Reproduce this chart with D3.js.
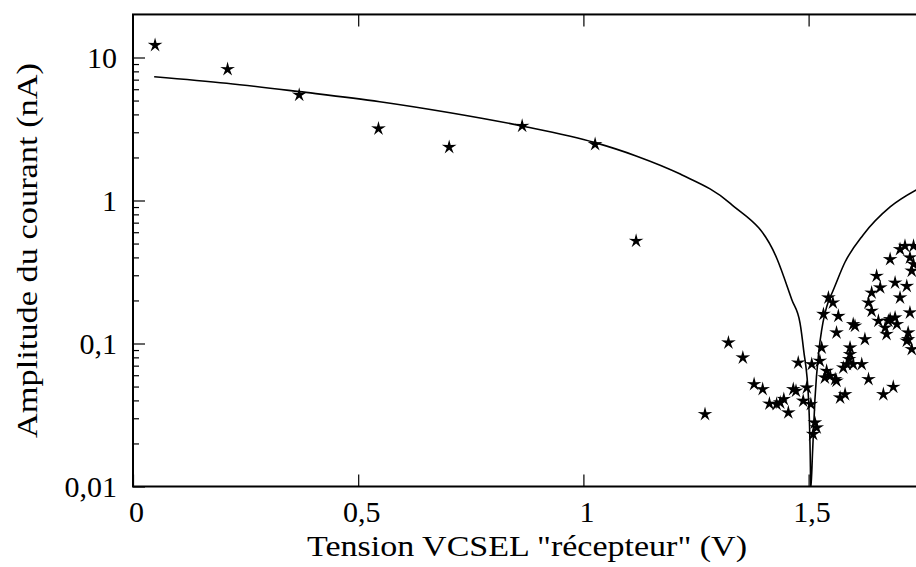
<!DOCTYPE html>
<html><head><meta charset="utf-8">
<script src="https://cdn.jsdelivr.net/npm/d3@7/dist/d3.min.js"></script>
<style>
html,body{margin:0;padding:0;background:#fff;}
svg text{font-family:"Liberation Serif","Times New Roman",serif;fill:#000;}
</style></head>
<body>
<svg id="chart" width="916" height="567"></svg>
<script>
// ---- data ----
const xTickValues = [0, 0.5, 1, 1.5];
const xTickLabels = ["0", "0,5", "1", "1,5"];
const yTickValues = [0.01, 0.1, 1, 10];
const yTickLabels = ["0,01", "0,1", "1", "10"];
const xTitle = "Tension VCSEL \"récepteur\" (V)";
const yTitle = "Amplitude du courant (nA)";

// model curve (solid line)
const modelV = [0.047, 0.208, 0.369, 0.548, 0.704, 0.864, 1.026, 1.117, 1.215, 1.326, 1.430, 1.463, 1.481, 1.489, 1.500, 1.504, 1.5047, 1.509, 1.514, 1.523, 1.529, 1.545, 1.552, 1.581, 1.621, 1.681, 1.739];
const modelI = [7.34, 6.60, 5.77, 4.91, 4.11, 3.32, 2.54, 2.05, 1.53, 0.955, 0.390, 0.2015, 0.139, 0.090, 0.0403, 0.0137, 0.0095, 0.018, 0.0403, 0.090, 0.124, 0.2015, 0.2255, 0.3715, 0.574, 0.901, 1.184];

// measured points (stars)
const measV = [0.049, 0.210, 0.369, 0.545, 0.702, 0.864, 1.026, 1.117, 1.270, 1.322, 1.354, 1.379, 1.398, 1.413, 1.429, 1.437, 1.445, 1.455, 1.466, 1.472, 1.477, 1.488, 1.496, 1.505, 1.507, 1.525, 1.529, 1.514, 1.518, 1.510, 1.533, 1.544, 1.554, 1.566, 1.562, 1.599, 1.603, 1.625, 1.540, 1.548, 1.562, 1.577, 1.592, 1.585, 1.599, 1.618, 1.633, 1.570, 1.581, 1.666, 1.688, 1.640, 1.655, 1.673, 1.677, 1.692, 1.721, 1.729, 1.725, 1.633, 1.536, 1.703, 1.714, 1.733, 1.681, 1.725, 1.733, 1.729, 1.651, 1.640, 1.659, 1.692, 1.718, 1.703, 1.681, 1.696, 1.670, 1.718, 1.592, 1.721, 1.590, 1.559];
const measI = [12.4, 8.40, 5.56, 3.23, 2.40, 3.37, 2.51, 0.529, 0.0325, 0.103, 0.0809, 0.0527, 0.0486, 0.0385, 0.0382, 0.0392, 0.0414, 0.0334, 0.0486, 0.0473, 0.0746, 0.0403, 0.0499, 0.0382, 0.0727, 0.0767, 0.095, 0.0284, 0.0262, 0.0236, 0.163, 0.2125, 0.196, 0.158, 0.121, 0.1385, 0.1347, 0.1087, 0.0653, 0.0602, 0.0556, 0.0688, 0.0854, 0.0727, 0.0727, 0.0727, 0.0571, 0.0425, 0.0448, 0.0448, 0.0504, 0.1715, 0.146, 0.118, 0.146, 0.154, 0.1087, 0.0926, 0.167, 0.196, 0.0586, 0.463, 0.488, 0.488, 0.394, 0.405, 0.364, 0.327, 0.301, 0.230, 0.250, 0.270, 0.256, 0.2125, 0.150, 0.1385, 0.131, 0.1058, 0.095, 0.121, 0.0788, 0.0571];

// ---- layout ----
const svg = d3.select("#chart");
const x0 = 133, pxPerUnit = 450.4;
const x = d3.scaleLinear().domain([0, 1.75]).range([x0, x0 + 1.75 * pxPerUnit]);
const y = d3.scaleLog().domain([0.01, 20]).range([486.5, 486.5 - 143 * Math.log10(2000)]);
const [xl, xr] = x.range();
const [yb, yt] = y.range();
const FS = 30;

svg.append("defs").append("clipPath").attr("id", "clip")
  .append("rect").attr("x", xl).attr("y", yt).attr("width", xr - xl).attr("height", yb - yt);

// minor y ticks
const minorY = [];
[0.01, 0.1, 1].forEach(d => { for (let k = 2; k <= 9; k++) minorY.push(+(d * k).toPrecision(3)); });
svg.append("g").attr("transform", `translate(${xl},0)`)
  .call(d3.axisLeft(y).tickValues(minorY).tickSizeInner(-6).tickSizeOuter(0).tickFormat(""))
  .call(g => g.select(".domain").remove())
  .selectAll("line").attr("stroke", "#000").attr("stroke-width", 1.2);

// major y ticks + labels
svg.append("g").attr("transform", `translate(${xl},0)`)
  .call(d3.axisLeft(y).tickValues(yTickValues).tickSizeInner(-12).tickSizeOuter(0).tickPadding(16)
    .tickFormat((d, i) => yTickLabels[i]))
  .call(g => g.select(".domain").remove())
  .call(g => g.selectAll("line").attr("stroke", "#000").attr("stroke-width", 1.2))
  .call(g => g.selectAll("text").attr("font-size", FS).attr("font-family", "Liberation Serif, serif"));

// bottom x ticks + labels
svg.append("g").attr("transform", `translate(0,${yb})`)
  .call(d3.axisBottom(x).tickValues(xTickValues).tickSizeInner(-12).tickSizeOuter(0).tickPadding(14)
    .tickFormat((d, i) => xTickLabels[i]))
  .call(g => g.select(".domain").remove())
  .call(g => g.selectAll("line").attr("stroke", "#000").attr("stroke-width", 1.2))
  .call(g => g.selectAll("text").attr("font-size", FS).attr("dx", 3).attr("font-family", "Liberation Serif, serif"));

// top x ticks
svg.append("g").attr("transform", `translate(0,${yt})`)
  .call(d3.axisTop(x).tickValues(xTickValues.slice(1)).tickSizeInner(-12).tickSizeOuter(0).tickFormat(""))
  .call(g => g.select(".domain").remove())
  .selectAll("line").attr("stroke", "#000").attr("stroke-width", 1.2);

// frame
svg.append("rect").attr("x", xl).attr("y", yt).attr("width", xr - xl).attr("height", yb - yt)
  .attr("fill", "none").attr("stroke", "#000").attr("stroke-width", 2);

// model line
const modelData = modelV.map((v, i) => [v, modelI[i]]);
svg.append("path").attr("clip-path", "url(#clip)")
  .datum(modelData)
  .attr("fill", "none").attr("stroke", "#000").attr("stroke-width", 1.6)
  .attr("d", d3.line().x(d => x(d[0])).y(d => y(d[1])).curve(d3.curveMonotoneX));

// star symbol
const thinStar = {
  draw(ctx, size) {
    const R = Math.sqrt(size), r = R * 0.33;
    for (let i = 0; i < 10; i++) {
      const a = -Math.PI / 2 + i * Math.PI / 5;
      const rad = i % 2 === 0 ? R : r;
      const px = rad * Math.cos(a), py = rad * Math.sin(a);
      if (i === 0) ctx.moveTo(px, py); else ctx.lineTo(px, py);
    }
    ctx.closePath();
  }
};
const measData = measV.map((v, i) => [v, measI[i]]);
svg.append("g").attr("clip-path", "url(#clip)")
  .selectAll("path").data(measData).join("path")
  .attr("transform", d => `translate(${x(d[0])},${y(d[1]) + 1})`)
  .attr("d", d3.symbol().type(thinStar).size(60))
  .attr("fill", "#000");

// titles
svg.append("text").attr("x", 527).attr("y", 556).attr("text-anchor", "middle")
  .attr("font-size", FS).attr("textLength", 440).attr("lengthAdjust", "spacingAndGlyphs").text(xTitle);
svg.append("text").attr("transform", `translate(37,${(yt + yb) / 2}) rotate(-90)`)
  .attr("text-anchor", "middle").attr("font-size", FS)
  .attr("textLength", 375).attr("lengthAdjust", "spacingAndGlyphs").text(yTitle);
</script>
</body></html>
